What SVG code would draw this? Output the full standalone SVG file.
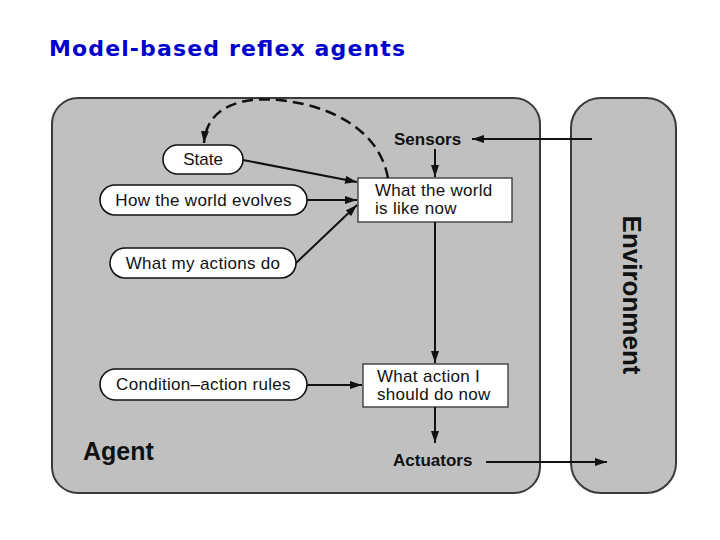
<svg xmlns="http://www.w3.org/2000/svg" width="720" height="540" viewBox="0 0 720 540">
<defs>
<marker id="ah" viewBox="0 0 12 8" refX="12" refY="4" markerWidth="12" markerHeight="8" markerUnits="userSpaceOnUse" orient="auto">
<path d="M0,0 L12,4 L0,8 z" fill="#111"/>
</marker>
</defs>
<style>
.frame{fill:#c0c0c0;stroke:#3a3a3a;stroke-width:2}
.pill{fill:#fff;stroke:#111;stroke-width:1.6}
.box{fill:#fff;stroke:#333;stroke-width:1.3}
.t{font-family:"Liberation Sans",Arial,sans-serif;font-size:17px;fill:#111}
.b{font-family:"Liberation Sans",Arial,sans-serif;font-weight:bold;fill:#111}
.c{stroke:#111;stroke-width:2;fill:none;marker-end:url(#ah)}
.d{stroke:#111;stroke-width:2.5;fill:none;stroke-dasharray:11 6;marker-end:url(#ah)}
</style>
<rect width="720" height="540" fill="#fff"/>
<text x="49" y="56" font-family="'DejaVu Sans',Verdana,sans-serif" font-weight="bold" font-size="22" fill="#0000cc" textLength="356" lengthAdjust="spacing">Model-based reflex agents</text>

<g id="agent">
<rect class="frame" x="52" y="98" width="488" height="395" rx="26"/>
<text class="b" x="83" y="460" font-size="25">Agent</text>
</g>
<g id="environment">
<rect class="frame" x="571" y="98" width="105" height="395" rx="30" stroke="#555" stroke-width="1.6"/>
<text class="b" font-size="26" text-anchor="middle" transform="translate(623,295) rotate(90)">Environment</text>
</g>

<g id="sensors"><text class="b" x="394" y="145" font-size="17">Sensors</text></g>
<g id="actuators"><text class="b" x="393" y="466" font-size="17">Actuators</text></g>

<g id="state">
<rect class="pill" x="163" y="145" width="80" height="29" rx="14.5"/>
<text class="t" x="203" y="165" text-anchor="middle">State</text>
</g>
<g id="how-world-evolves">
<rect class="pill" x="100" y="185" width="207" height="30" rx="15"/>
<text class="t" x="203.5" y="206" text-anchor="middle" letter-spacing="0.3">How the world evolves</text>
</g>
<g id="what-my-actions-do">
<rect class="pill" x="110" y="248" width="186" height="30" rx="15"/>
<text class="t" x="203" y="269" text-anchor="middle" letter-spacing="0.3">What my actions do</text>
</g>
<g id="condition-action-rules">
<rect class="pill" x="100" y="369" width="207" height="31" rx="15.5"/>
<text class="t" x="203.5" y="390" text-anchor="middle" letter-spacing="0.3">Condition–action rules</text>
</g>
<g id="world-now">
<rect class="box" x="358" y="178" width="154" height="44"/>
<text class="t" x="375" y="196" letter-spacing="0.3">What the world</text>
<text class="t" x="375" y="214" letter-spacing="0.3">is like now</text>
</g>
<g id="action-now">
<rect class="box" x="363" y="364" width="145" height="43"/>
<text class="t" x="377" y="382" letter-spacing="0.3">What action I</text>
<text class="t" x="377" y="400" letter-spacing="0.3">should do now</text>
</g>

<g id="connectors">
<line class="c" x1="592" y1="139" x2="472" y2="139"/>
<line class="c" x1="435" y1="149" x2="435" y2="177"/>
<path class="d" d="M388,178 C376,112 292,96 252,100 C222,104 206,118 204,143"/>
<line class="c" x1="243" y1="160" x2="357" y2="182"/>
<line class="c" x1="307" y1="200" x2="357" y2="200"/>
<line class="c" x1="296" y1="263" x2="357" y2="205"/>
<line class="c" x1="435" y1="222" x2="435" y2="363"/>
<line class="c" x1="307" y1="385" x2="362" y2="385"/>
<line class="c" x1="435" y1="407" x2="435" y2="443"/>
<line class="c" x1="486" y1="462" x2="607" y2="462"/>
</g>
</svg>
